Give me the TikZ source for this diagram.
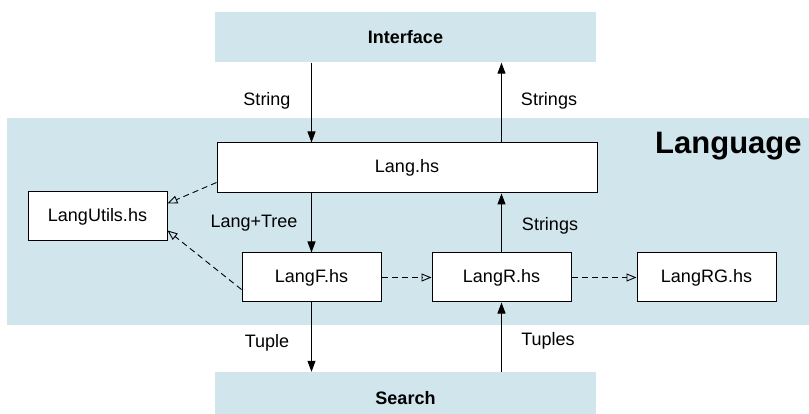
\documentclass[tikz,border=0pt]{standalone}
\usepackage{fontspec}
\setmainfont{Liberation Sans}
\usetikzlibrary{arrows.meta}
\definecolor{bgblue}{HTML}{D0E5EC}
\begin{document}
\begin{tikzpicture}[x=1pt,y=-1pt,
  font=\fontsize{18}{20}\selectfont,
  region/.style={fill=bgblue, draw=none, inner sep=0pt},
  filebox/.style={draw=black, fill=white, line width=1pt, minimum width=139pt, minimum height=49pt, inner sep=0pt},
  flow/.style={line width=1pt, -{Triangle[length=11pt,width=8pt]}},
  uses/.style={line width=0.9pt, dash pattern=on 6pt off 4pt, -{Triangle[open,length=10pt,width=8pt]}},
  lbl/.style={inner sep=0pt}
]
\useasboundingbox (0,0) rectangle (809,414);
% regions
\node[region, minimum width=381pt, minimum height=50pt] (iface) at (405.5,37.5) {\raisebox{-1.5pt}{\bfseries Interface}};
\node[region, minimum width=802pt, minimum height=207pt] (langbg) at (408,221.5) {};
\node[region, minimum width=381pt, minimum height=52pt] (search) at (405.5,398) {\bfseries Search};
\node[lbl, anchor=base west, font=\fontsize{31}{34}\selectfont\bfseries] (langtitle) at (655,154) {Language};
% files
\node[filebox, minimum width=380pt, minimum height=50pt] (lang) at (407,168) {Lang.hs};
\node[filebox] (lu) at (97.5,216.5) {LangUtils.hs};
\node[filebox] (langf) at (311.5,277.5) {LangF.hs};
\node[filebox] (langr) at (501.5,277.5) {LangR.hs};
\node[filebox] (langrg) at (706.5,277.5) {LangRG.hs};
% flows
\draw[flow] (iface.south -| langf) -- (lang.north -| langf);
\draw[flow] (lang.north -| langr) -- (iface.south -| langr);
\draw[flow] (lang.south -| langf) -- (langf.north);
\draw[flow] (langr.north) -- (lang.south -| langr);
\draw[flow] (langf.south) -- (search.north -| langf);
\draw[flow] (search.north -| langr) -- (langr.south);
% dependencies
\draw[uses] ([yshift=11pt]lang.south west) -- ([yshift=13pt]lu.east);
\draw[uses] ([yshift=-12pt]langf.west) -- ([yshift=-14pt]lu.east);
\draw[uses] (langf.east) -- (langr.west);
\draw[uses] (langr.east) -- (langrg.west);
% labels
\node[lbl] (l1) at (267,101) {String};
\node[lbl] (l2) at (549,101) {Strings};
\node[lbl] (l3) at (254,223) {Lang+Tree};
\node[lbl] (l4) at (550,226) {Strings};
\node[lbl] (l5) at (267,343) {Tuple};
\node[lbl] (l6) at (548,341) {Tuples};
\end{tikzpicture}
\end{document}
